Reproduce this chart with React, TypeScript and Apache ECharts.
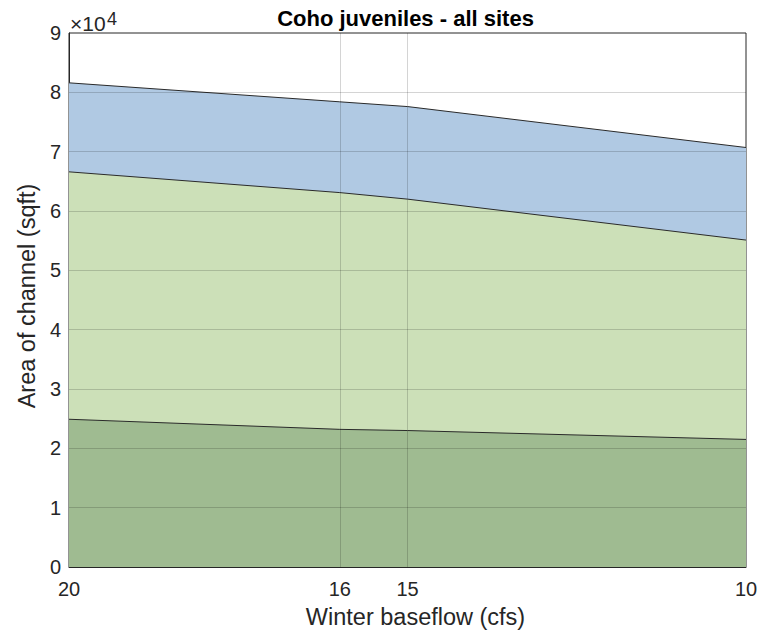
import React, { useEffect, useRef } from "react";
import * as echarts from "echarts";

// Winter baseflow (cfs)
const flows = [20, 16, 15, 10];
const xTickLabels = [20, 16, 15, 10];
// Upper boundaries of each band (sqft), cumulative
const bottomBand = [24900, 23200, 23000, 21500];
const middleTop = [66600, 63100, 62000, 55100];
const upperTop = [81600, 78400, 77600, 70700];
const yTicks = [0, 1, 2, 3, 4, 5, 6, 7, 8, 9];

const colors = ["#9fbb91", "#cce0b8", "#b0c9e3"];
const FONT = "'Liberation Sans', Arial, Helvetica, sans-serif";
const INK = "#262626";

export default function App() {
  const ref = useRef<HTMLDivElement>(null);
  useEffect(() => {
    if (!ref.current) return;
    document.body.style.margin = "0";
    const chart = echarts.init(ref.current, null, { renderer: "svg" });
    const bands = [upperTop, middleTop, bottomBand];
    const fills = [colors[2], colors[1], colors[0]];
    const series: any[] = bands.map((b, k) => ({
      type: "line",
      data: flows.map((f, i) => [f, b[i]]),
      symbol: "none",
      lineStyle: { color: "#2a2a2a", width: 1 },
      areaStyle: { color: fills[k], opacity: 1, origin: "start" },
      z: 2 + k,
    }));
    series.push({
      type: "line",
      data: [],
      z: 20,
      silent: true,
      markLine: {
        silent: true,
        symbol: "none",
        label: { show: false },
        lineStyle: { color: "rgba(0,0,0,0.17)", width: 1, type: "solid" },
        data: [
          ...yTicks.slice(1, -1).map((t) => ({ yAxis: t * 10000 })),
          ...xTickLabels.slice(1, -1).map((t) => ({ xAxis: t })),
        ],
      },
    });
    chart.setOption({
      animation: false,
      backgroundColor: "#ffffff",
      textStyle: { fontFamily: FONT },
      grid: {
        left: 69,
        right: 15,
        top: 33,
        bottom: 72,
        show: true,
        borderColor: INK,
        borderWidth: 1,
        backgroundColor: "#ffffff",
      },
      xAxis: {
        type: "value",
        inverse: true,
        min: 10,
        max: 20,
        interval: 1,
        name: "Winter baseflow (cfs)",
        nameLocation: "middle",
        nameGap: 38,
        nameTextStyle: { fontFamily: FONT, fontSize: 23.5, color: INK, padding: [0, 0, 0, 16] },
        axisLine: { show: true, lineStyle: { color: INK } },
        axisTick: { show: false },
        splitLine: { show: false },
        axisLabel: {
          fontFamily: FONT,
          fontSize: 20,
          color: INK,
          margin: 12,
          formatter: (v: number) => (xTickLabels.indexOf(v) >= 0 ? String(v) : ""),
        },
      },
      yAxis: {
        type: "value",
        min: 0,
        max: 90000,
        interval: 10000,
        name: "Area of channel (sqft)",
        nameLocation: "middle",
        nameGap: 30,
        nameTextStyle: { fontFamily: FONT, fontSize: 23.5, color: INK, padding: [0, 0, 0, 8] },
        axisLine: { show: true, lineStyle: { color: INK } },
        axisTick: { show: false },
        splitLine: { show: false },
        axisLabel: {
          fontFamily: FONT,
          fontSize: 20,
          color: INK,
          margin: 8,
          formatter: (v: number) => String(Math.round(v / 10000)),
        },
      },
      graphic: [
        {
          type: "text",
          x: 405.5,
          y: 18,
          style: {
            text: "Coho juveniles - all sites",
            fontFamily: FONT,
            fontSize: 22,
            fontWeight: "bold",
            fill: "#000",
            align: "center",
            verticalAlign: "middle",
          },
        },
        {
          type: "text",
          x: 70,
          y: 23,
          style: {
            text: "×10",
            fontFamily: FONT,
            fontSize: 21,
            fill: INK,
            align: "left",
            verticalAlign: "middle",
          },
        },
        {
          type: "text",
          x: 107,
          y: 18.5,
          style: {
            text: "4",
            fontFamily: FONT,
            fontSize: 18,
            fill: INK,
            align: "left",
            verticalAlign: "middle",
          },
        },
      ],
      series,
    });
    return () => chart.dispose();
  }, []);
  return <div ref={ref} style={{ width: 761, height: 639 }} />;
}
